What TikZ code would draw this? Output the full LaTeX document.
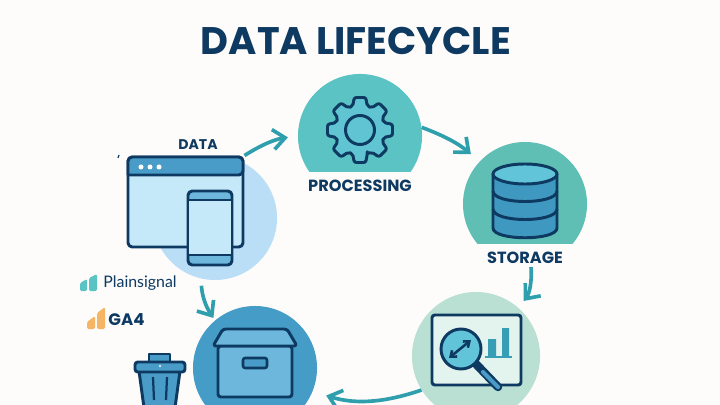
\documentclass[tikz,border=0pt]{standalone}
\usepackage{fontspec}
\setmainfont{Poppins}
\newfontfamily\logofont{Lato}
\usetikzlibrary{arrows.meta}
\definecolor{navy}{HTML}{0E3A62}
\definecolor{paper}{HTML}{FDFCFA}
\definecolor{teal}{HTML}{2F9FAE}
\definecolor{datacol}{HTML}{BBDEF7}
\definecolor{proccol}{HTML}{5CC3C4}
\definecolor{storcol}{HTML}{5FBFB5}
\definecolor{anacol}{HTML}{B9E0D3}
\definecolor{archcol}{HTML}{459DC7}
\definecolor{midblue}{HTML}{4A9CC8}
\definecolor{cylcol}{HTML}{3F98BF}
\definecolor{paleblue}{HTML}{C6E9F9}
\definecolor{boxblue}{HTML}{6DB6DC}
\definecolor{lenscol}{HTML}{62C4D8}
\definecolor{gacol}{HTML}{F5B565}
\tikzset{
	phase/.style={circle,inner sep=0pt,minimum size=#1},
	cover/.style={fill=paper,inner sep=0pt,minimum width=3.4cm,minimum height=0.68cm,font=\fontsize{11.5}{13}\selectfont\bfseries,text=navy},
	iconline/.style={draw=navy,line width=2.1pt,line join=round},
	flowarrow/.style={draw=teal,line width=2.6pt,-{Straight Barb[length=.3cm,width=.5cm]}}
}
\begin{document}
\begin{tikzpicture}[x=0.025cm,y=-0.025cm]
	\useasboundingbox (0,0) rectangle (720,405);
	\clip (0,0) rectangle (720,405);
	\fill[paper] (0,0) rectangle (720,405);

	\node[text=navy,font=\fontsize{27.3}{30}\selectfont\bfseries] (title) at (356,41) {DATA LIFECYCLE};

	\node[phase=3.1cm,fill=datacol] (data) at (215,218) {};
	\node[phase=3.1cm,fill=proccol] (proc) at (360,136) {};
	\node[phase=3.1cm,fill=storcol] (stor) at (525,204) {};
	\node[phase=3.2cm,fill=anacol] (ana) at (476,356) {};
	\node[phase=3.1cm,fill=archcol] (arch) at (255,368) {};

	\node[cover] (proclabel) at (360,186) {PROCESSING};
	\node[cover] (storlabel) at (525,258) {STORAGE};
	\node[text=navy,font=\fontsize{10}{12}\selectfont\bfseries] (datalabel) at (198,145) {DATA};

	% browser window and phone
	\node[iconline,fill=paleblue,rounded corners=3pt,inner sep=0pt,minimum width=2.875cm,minimum height=2.25cm] (win) at (185.5,202) {};
	\draw[iconline,fill=midblue] (128,175) [rounded corners=3pt] -- (128,157) -- (243,157) -- (243,175) [sharp corners] -- cycle;
	\fill[white] (141,167) circle (2.5) (150,167) circle (2.5) (159,167) circle (2.5);
	\draw[iconline,fill=boxblue,rounded corners=3pt] (188,191) rectangle (232,265);
	\draw[iconline,fill=paleblue] (188,200) rectangle (232,255);
	\draw[navy,line width=0.8pt] (118,158) -- (119,155);

	% gear
	\begin{scope}[shift={(360,130)}]
		\draw[iconline,fill=lenscol!70!proccol,rounded corners=1.5pt] (73:25)
			\foreach \a in {90,135,...,405} { -- (\a-17:25) -- (\a-10:33) -- (\a+10:33) -- (\a+17:25) } -- cycle;
		\draw[iconline] (0,0) circle (14.5);
	\end{scope}

	% cylinder
	\draw[iconline,fill=cylcol] (493,174) -- (493,228) .. controls (493,241) and (557,241) .. (557,228) -- (557,174) -- cycle;
	\draw[iconline] (493,191) .. controls (493,205) and (557,205) .. (557,191);
	\draw[iconline] (493,209) .. controls (493,223) and (557,223) .. (557,209);
	\draw[iconline,fill=lenscol] (525,174) ellipse [x radius=32,y radius=10];

	% chart and lens
	\draw[iconline,fill=anacol!40!white,rounded corners=2pt] (432,315) rectangle (521,385);
	\fill[teal!70!midblue] (488,339) rectangle (496,357) (502,328) rectangle (509,357);
	\draw[teal!70!midblue,line width=1.2pt] (485,357) -- (512,357);
	\draw[navy,line width=6pt,line cap=round] (476,364) -- (498,387);
	\draw[midblue,line width=3pt,line cap=round] (483,372) -- (498,387);
	\draw[iconline,fill=lenscol] (461,349) circle (20);
	\draw[navy,line width=1.8pt,{Straight Barb[length=.13cm,width=.2cm]}-{Straight Barb[length=.13cm,width=.2cm]}] (449,358) -- (471,340);

	% archive box
	\draw[iconline,fill=boxblue,rounded corners=2pt] (218,346) rectangle (292,397);
	\draw[iconline,fill=boxblue,rounded corners=2pt] (213,346) -- (223,329) -- (287,329) -- (297,346) -- cycle;
	\draw[navy,line width=1.8pt,fill=midblue,rounded corners=1.5pt] (243,358) rectangle (267,368);

	% bin
	\draw[iconline,fill=midblue] (149,362) -- (149,354) -- (170,354) -- (170,362);
	\draw[iconline,fill=midblue] (139,371) -- (145,415) -- (174,415) -- (180,371) -- cycle;
	\draw[navy,line width=1.6pt] (153,377) -- (154,400) (167,377) -- (166,400);
	\draw[iconline,fill=midblue,rounded corners=2pt] (135,362) rectangle (185,372);
	\fill[white] (160,366) circle (1.2);

	% logos
	\fill[proccol,rounded corners=1pt] (80,291) -- (80,283) -- (87,279) -- (87,291) -- cycle;
	\fill[proccol,rounded corners=1pt] (89,291) -- (89,278) -- (97,274) -- (97,291) -- cycle;
	\node[text=navy,font=\logofont\fontsize{11.3}{13}\selectfont,inner sep=0pt] (plain) at (140,283) {Plainsignal};
	\fill[gacol,rounded corners=1pt] (87,329) -- (87,322) -- (95,316) -- (95,329) -- cycle;
	\fill[gacol,rounded corners=1pt] (97,329) -- (97,313) -- (105,307) -- (105,329) -- cycle;
	\node[text=navy,font=\fontsize{11.8}{13}\selectfont\bfseries,inner sep=0pt] (ga) at (126.5,320) {GA4};

	% cycle arrows
	\coordinate (stortop) at (531,267);
	\draw[flowarrow,shorten >=7pt] (win.north east) to[bend left=12] (proc.west);
	\draw[flowarrow,shorten >=8pt] (proc.8) to[bend left=10] (stor.137);
	\draw[flowarrow,shorten >=6pt] (stortop) to[bend left=22] (ana.49);
	\draw[flowarrow,shorten >=10pt] (ana.212) to[bend left=18] (arch.-22);
	\draw[flowarrow,shorten <=5pt,shorten >=2pt] (data.257) to[bend right=15] (arch.130);
\end{tikzpicture}
\end{document}
